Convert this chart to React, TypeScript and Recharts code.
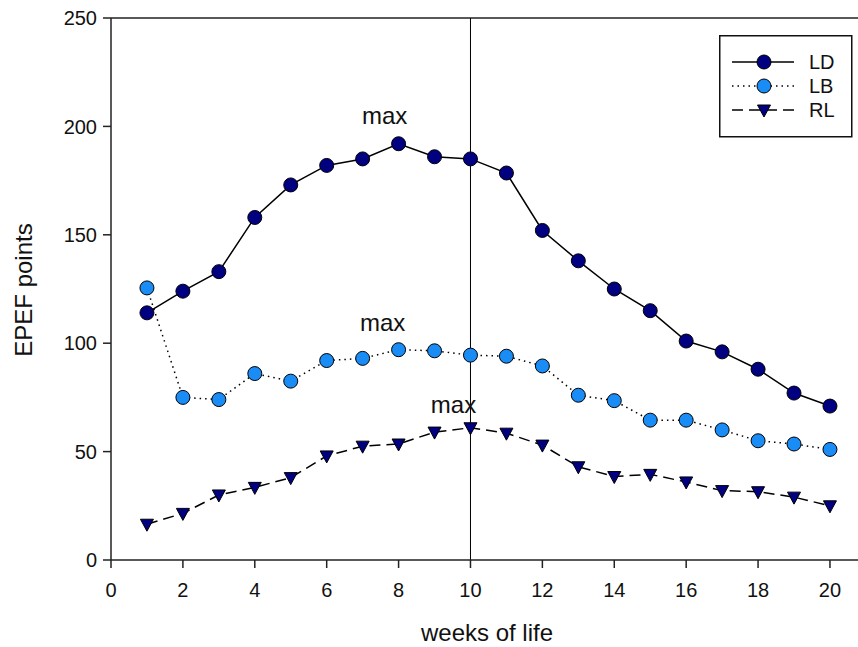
import {
  LineChart,
  Line,
  XAxis,
  YAxis,
  ReferenceLine,
  Legend,
  LabelList,
  Label,
} from 'recharts';

const weeks = [1, 2, 3, 4, 5, 6, 7, 8, 9, 10, 11, 12, 13, 14, 15, 16, 17, 18, 19, 20];
const ldValues = [114, 124, 133, 158, 173, 182, 185, 192, 186, 185, 178.5, 152, 138, 125, 115, 101, 96, 88, 77, 71];
const lbValues = [125.5, 75, 74, 86, 82.5, 92, 93, 97, 96.5, 94.5, 94, 89.5, 76, 73.5, 64.5, 64.5, 60, 55, 53.5, 51];
const rlValues = [16.5, 21.5, 30, 33.5, 38, 48, 52.5, 53.5, 59, 61, 58.5, 53, 43, 38.5, 39.5, 36, 32, 31.5, 29, 25];
// week at which each series is annotated "max"
const ldMaxWeek = 8;
const lbMaxWeek = 8;
const rlMaxWeek = 10;
const xTicks = [0, 2, 4, 6, 8, 10, 12, 14, 16, 18, 20];
const yTicks = [0, 50, 100, 150, 200, 250];

const FONT = '"Liberation Sans", Arial, Helvetica, sans-serif';
const LD_FILL = '#000080';
const LB_FILL = '#1a8cf5';

const data = weeks.map((w, i) => ({
  week: w,
  ld: ldValues[i],
  lb: lbValues[i],
  rl: rlValues[i],
}));

const circleDot = (fill: string) => (props: any) => {
  const { cx, cy, index } = props;
  return <circle key={`c-${fill}-${index}`} cx={cx} cy={cy} r={7} fill={fill} stroke="#000" strokeWidth={1} />;
};

const triangleDot = (props: any) => {
  const { cx, cy, index } = props;
  const pts = `${cx - 6.5},${cy - 5} ${cx + 6.5},${cy - 5} ${cx},${cy + 7}`;
  return <polygon key={`t-${index}`} points={pts} fill={LD_FILL} stroke="#000" strokeWidth={1} />;
};

const maxLabel = (week: number, dx: number, dy: number) => (props: any) => {
  const { x, y, index } = props;
  if (index !== weeks.indexOf(week)) return null;
  return (
    <text x={x + dx} y={y + dy} textAnchor="middle" fontSize={24} fontFamily={FONT} fill="#111">
      max
    </text>
  );
};

const legendRows = [
  { name: 'LD', dash: undefined as string | undefined, marker: 'circle', fill: LD_FILL },
  { name: 'LB', dash: '1.5 4', marker: 'circle', fill: LB_FILL },
  { name: 'RL', dash: '11 6', marker: 'triangle', fill: LD_FILL },
];

function LegendBox() {
  return (
    <svg width={134} height={103} style={{ display: 'block' }}>
      <rect x={0.75} y={0.75} width={132} height={101} fill="#fff" stroke="#111" strokeWidth={1.5} />
      {legendRows.map((r, i) => {
        const y = 27 + i * 24;
        return (
          <g key={r.name}>
            <line x1={13} x2={75} y1={y} y2={y} stroke="#000" strokeWidth={1.5} strokeDasharray={r.dash} />
            {r.marker === 'circle' ? (
              <circle cx={45} cy={y} r={7} fill={r.fill} stroke="#000" />
            ) : (
              <polygon points={`${38.5},${y - 5} ${51.5},${y - 5} ${45},${y + 7}`} fill={r.fill} stroke="#000" />
            )}
            <text x={90} y={y} dy="0.36em" fontSize={20} fontFamily={FONT} fill="#111">
              {r.name}
            </text>
          </g>
        );
      })}
    </svg>
  );
}

export default function App() {
  const tick = { fontSize: 20, fontFamily: FONT, fill: '#111' };
  return (
    <div style={{ position: 'absolute', left: 0, top: 0 }}>
      <LineChart width={858} height={647} data={data} margin={{ top: 18, right: 0, left: 0, bottom: 0 }}>
        <XAxis
          dataKey="week"
          type="number"
          domain={[0, 20.78]}
          ticks={xTicks}
          height={87}
          tickSize={8}
          tickMargin={15}
          tick={tick}
          stroke="#222"
          strokeWidth={1.5}
        >
          <Label
            content={() => (
              <text x={487} y={641} textAnchor="middle" fontSize={24} fontFamily={FONT} fill="#111">
                weeks of life
              </text>
            )}
          />
        </XAxis>
        <YAxis
          type="number"
          domain={[0, 250]}
          ticks={yTicks}
          width={111}
          tickSize={8}
          tickMargin={6}
          tick={tick}
          stroke="#222"
          strokeWidth={1.5}
        >
          <Label
            content={() => (
              <text
                transform="translate(32,290) rotate(-90)"
                textAnchor="middle"
                fontSize={24}
                fontFamily={FONT}
                fill="#111"
              >
                EPEF points
              </text>
            )}
          />
        </YAxis>
        <ReferenceLine y={250} stroke="#222" strokeWidth={1.5} />
        <ReferenceLine x={10} stroke="#000" strokeWidth={1} />
        <Legend
          layout="vertical"
          align="center"
          verticalAlign="middle"
          wrapperStyle={{ left: 719, top: 35, width: 134, height: 103 }}
          content={() => <LegendBox />}
        />
        <Line
          dataKey="rl"
          stroke="#000"
          strokeWidth={1.5}
          strokeDasharray="11 6"
          dot={triangleDot}
          activeDot={false}
          isAnimationActive={false}
        >
          <LabelList dataKey="rl" content={maxLabel(rlMaxWeek, -17, -15)} />
        </Line>
        <Line
          dataKey="lb"
          stroke="#000"
          strokeWidth={1.5}
          strokeDasharray="1.5 4"
          dot={circleDot(LB_FILL)}
          activeDot={false}
          isAnimationActive={false}
        >
          <LabelList dataKey="lb" content={maxLabel(lbMaxWeek, -16, -19)} />
        </Line>
        <Line
          dataKey="ld"
          stroke="#000"
          strokeWidth={1.5}
          dot={circleDot(LD_FILL)}
          activeDot={false}
          isAnimationActive={false}
        >
          <LabelList dataKey="ld" content={maxLabel(ldMaxWeek, -14, -20)} />
        </Line>
      </LineChart>
    </div>
  );
}
